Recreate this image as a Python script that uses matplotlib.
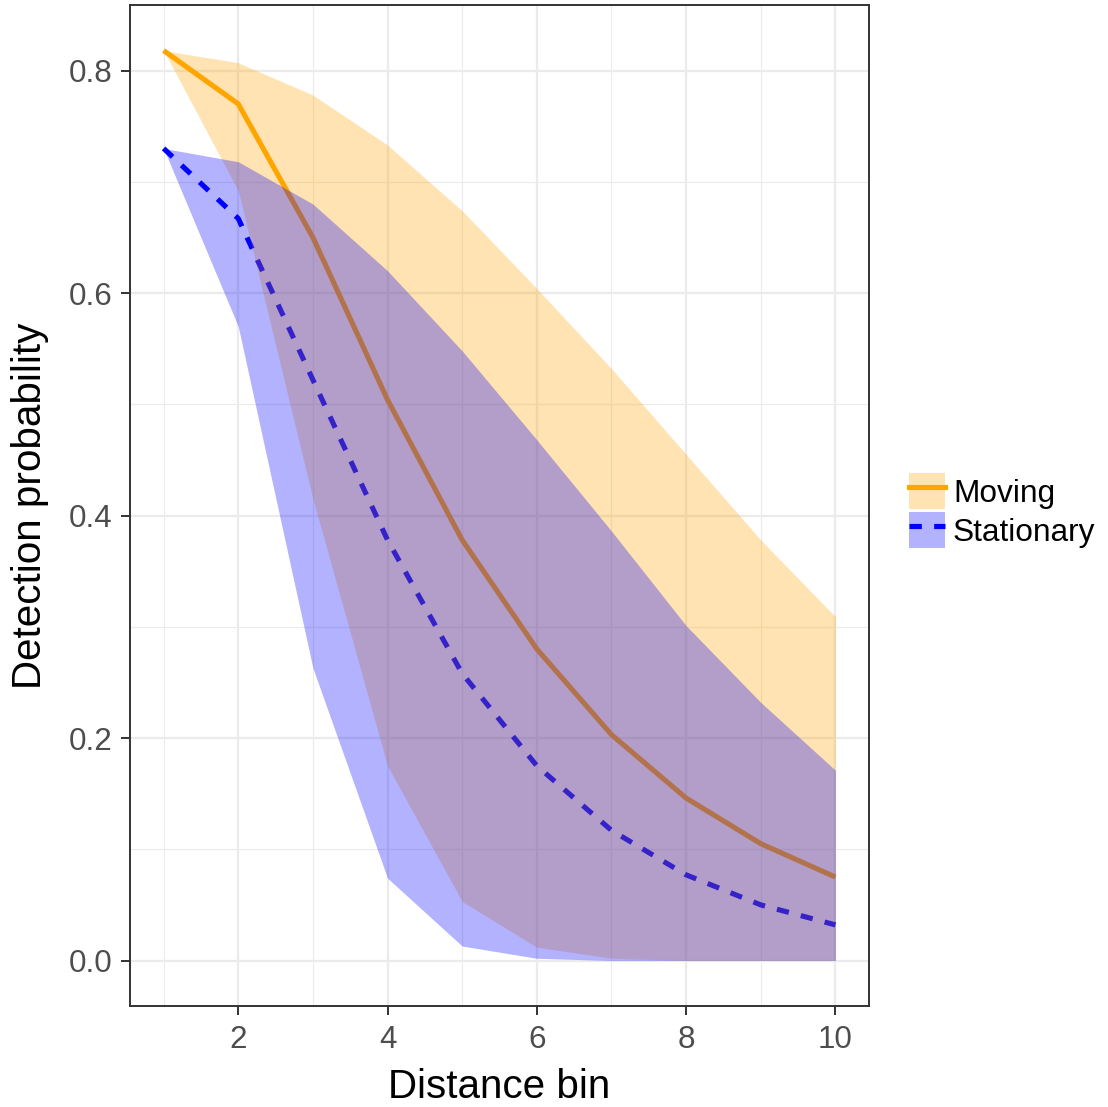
import numpy as np
import matplotlib
matplotlib.use("Agg")
import matplotlib.pyplot as plt
from matplotlib.patches import Patch
from matplotlib.lines import Line2D
from matplotlib.ticker import MultipleLocator

plt.rcParams['font.family'] = ['Liberation Sans', 'DejaVu Sans']

# Detection probability by distance bin, posterior mean and credible band
bins = [1, 2, 3, 4, 5, 6, 7, 8, 9, 10]
moving_mean = [0.818, 0.770, 0.650, 0.504, 0.378, 0.280, 0.203, 0.146, 0.105, 0.075]
moving_upper = [0.818, 0.807, 0.778, 0.733, 0.674, 0.604, 0.532, 0.455, 0.378, 0.309]
moving_lower = [0.818, 0.692, 0.415, 0.175, 0.053, 0.012, 0.002, 0.0, 0.0, 0.0]
stationary_mean = [0.730, 0.667, 0.522, 0.378, 0.258, 0.175, 0.117, 0.077, 0.050, 0.032]
stationary_upper = [0.730, 0.718, 0.680, 0.620, 0.548, 0.468, 0.386, 0.301, 0.232, 0.171]
stationary_lower = [0.730, 0.570, 0.263, 0.074, 0.013, 0.002, 0.0, 0.0, 0.0, 0.0]
labels = ["Moving", "Stationary"]

orange = "#FFA500"
blue = "#0000FF"
dark = "#333333"
grid = "#EBEBEB"

W, H = 1108, 1107
fig = plt.figure(figsize=(W / 100, H / 100), dpi=100)
L, R, T, B = 130, 869, 5, 1006
ax = fig.add_axes([L / W, 1 - B / H, (R - L) / W, (B - T) / H])

# lines underneath, translucent ribbons on top
ax.plot(bins, moving_mean, color=orange, lw=3.7, solid_capstyle="butt", zorder=2)
ax.plot(bins, stationary_mean, color=blue, lw=3.7, dashes=(2.4, 2.4),
        dash_capstyle="butt", zorder=2)
ax.fill_between(bins, moving_lower, moving_upper, color=orange, alpha=0.3,
                lw=0, zorder=3)
ax.fill_between(bins, stationary_lower, stationary_upper, color=blue, alpha=0.3,
                lw=0, zorder=4)

# ggplot-style expansion of the scales
xmin, xmax = min(bins), max(bins)
xpad = 0.05 * (xmax - xmin)
ax.set_xlim(xmin - xpad, xmax + xpad)
ylo = min(min(moving_lower), min(stationary_lower))
yhi = max(max(moving_upper), max(stationary_upper))
ypad = 0.05 * (yhi - ylo)
ax.set_ylim(ylo - ypad, yhi + ypad)

ax.xaxis.set_major_locator(MultipleLocator(2))
ax.xaxis.set_minor_locator(MultipleLocator(1))
ax.yaxis.set_major_locator(MultipleLocator(0.2))
ax.yaxis.set_minor_locator(MultipleLocator(0.1))
ax.set_yticks([0.0, 0.2, 0.4, 0.6, 0.8])
ax.set_yticklabels(["0.0", "0.2", "0.4", "0.6", "0.8"])
ax.set_xticks([2, 4, 6, 8, 10])
ax.set_xticklabels(["2", "4", "6", "8", "10"])

ax.set_axisbelow(True)
ax.grid(which="major", color=grid, lw=1.6, zorder=0)
ax.grid(which="minor", color=grid, lw=0.8, zorder=0)
for s in ax.spines.values():
    s.set_color(dark)
    s.set_linewidth(1.4)
ax.tick_params(which="major", length=6.5, width=1.4, color=dark,
               labelsize=22.6, labelcolor="#4D4D4D", pad=6)
ax.tick_params(axis="x", pad=7)
ax.tick_params(which="minor", length=0)

fig.text((L + R) / 2 / W, 1 - 1098 / H, "Distance bin", ha="center",
         va="baseline", fontsize=29.1, color="black")
fig.text(30 / W, 1 - (T + B) / 2 / H, "Detection probability", ha="center",
         va="center", rotation=90, fontsize=29.1, color="black")

handles = [
    (Patch(facecolor=orange, alpha=0.3, lw=0), Line2D([], [], color=orange, lw=3.7)),
    (Patch(facecolor=blue, alpha=0.3, lw=0),
     Line2D([], [], color=blue, lw=3.7, dashes=(2.4, 2.4))),
]
leg_pt = 22.8
fs_px = leg_pt * 100 / 72
key = 36.0
hh = (key / fs_px - 0.245) / 0.65
leg = fig.legend(handles, labels, loc="upper left",
                 bbox_to_anchor=(909 / W, 1 - 473 / H),
                 frameon=False, fontsize=leg_pt,
                 handlelength=key / fs_px, handleheight=hh,
                 labelspacing=3 / fs_px, handletextpad=8 / fs_px,
                 borderpad=0, borderaxespad=0)

fig.savefig("out.png", dpi=100)
